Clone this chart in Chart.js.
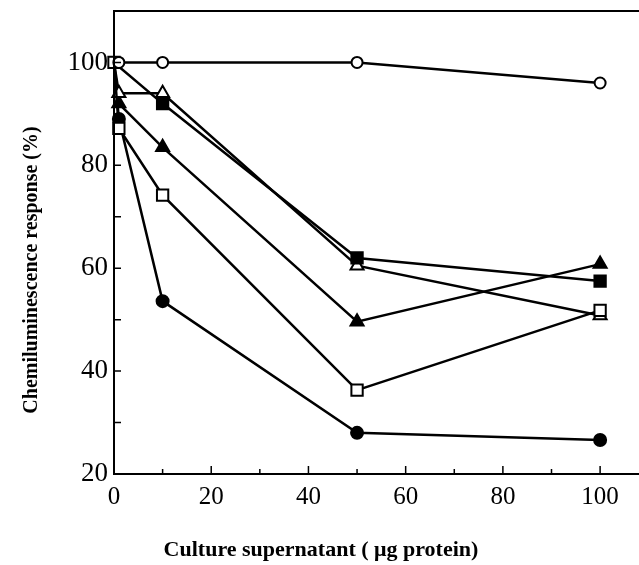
<!DOCTYPE html>
<html>
<head>
<meta charset="utf-8">
<script src="https://cdn.jsdelivr.net/npm/chart.js@4"></script>
<style>
  html, body { margin: 0; padding: 0; background: #fff; }
  #wrap { width: 639px; height: 565px; }
</style>
</head>
<body>
<div id="wrap"><canvas id="myChart"></canvas></div>
<script>
// Culture supernatant (ug protein)
const doses = [0, 1, 10, 50, 100];

// Chemiluminescence response (%) per series
const openCircle     = [100, 100, 100, 100, 96];
const filledSquare   = [100, null, 92, 62, 57.5];
const openTriangle   = [100, 94, 94, 60.5, 50.8];
const filledTriangle = [100, 92, 83.5, 49.6, 60.8];
const openSquare     = [100, 87.2, 74.2, 36.3, 51.8];
const filledCircle   = [100, 89, 53.6, 28, 26.6];

const xTicks = [0, 20, 40, 60, 80, 100];
const yTicks = [20, 40, 60, 80, 100];

const xTitle = 'Culture supernatant ( \u03bcg protein)';
const yTitle = 'Chemiluminescence response (%)';

function points(vals) {
    const out = [];
    vals.forEach((v, i) => { if (v !== null) out.push({ x: doses[i], y: v }); });
    return out;
}

function series(vals, shape, filled, radius, showFirst) {
    const pts = points(vals);
    return {
        data: pts,
        showLine: true,
        borderColor: '#000',
        borderWidth: 2.5,
        pointStyle: shape,
        pointRadius: pts.map(p => (p.x === 0 && !showFirst) ? 0 : radius),
        pointBackgroundColor: filled ? '#000' : '#fff',
        pointBorderColor: '#000',
        pointBorderWidth: 2,
        clip: false
    };
}

// frame, inward ticks and axis titles
const frame = {
    id: 'frame',
    afterDatasetsDraw(chart) {
        const c = chart.ctx;
        const a = chart.chartArea;
        const xs = chart.scales.x, ys = chart.scales.y;
        c.save();
        c.strokeStyle = '#000';
        c.lineWidth = 2;
        c.beginPath();
        c.moveTo(chart.width, a.top);
        c.lineTo(a.left, a.top);
        c.lineTo(a.left, a.bottom);
        c.lineTo(chart.width, a.bottom);
        c.stroke();
        c.lineWidth = 1.5;
        c.beginPath();
        for (let v = 10; v <= 100; v += 10) {
            const px = xs.getPixelForValue(v);
            const len = v % 20 === 0 ? 8 : 5;
            c.moveTo(px, a.bottom);
            c.lineTo(px, a.bottom - len);
        }
        for (let v = 30; v <= 100; v += 10) {
            const py = ys.getPixelForValue(v);
            c.moveTo(a.left, py);
            c.lineTo(a.left + 7, py);
        }
        c.stroke();

        c.fillStyle = '#000';
        c.textAlign = 'center';
        c.textBaseline = 'middle';
        c.font = 'bold 22px "Liberation Serif"';
        c.fillText(xTitle, 321, 550);
        c.font = 'bold 20px "Liberation Serif"';
        c.translate(32, 270);
        c.rotate(-Math.PI / 2);
        c.fillText(yTitle, 0, 0);
        c.restore();
    }
};

new Chart(document.getElementById('myChart'), {
    type: 'scatter',
    data: {
        datasets: [
            series(openCircle, 'circle', false, 5.5, false),
            series(openSquare, 'rect', false, 8, true),
            series(filledSquare, 'rect', true, 8, false),
            series(openTriangle, 'triangle', false, 7.5, false),
            series(filledTriangle, 'triangle', true, 7.5, false),
            series(filledCircle, 'circle', true, 6, false)
        ]
    },
    options: {
        responsive: true,
        maintainAspectRatio: false,
        animation: false,
        layout: { autoPadding: false, padding: { top: 11, right: 0, left: 0, bottom: 0 } },
        plugins: { legend: { display: false }, tooltip: { enabled: false } },
        scales: {
            x: {
                type: 'linear',
                bounds: 'data',
                min: 0,
                max: 108,
                afterFit(s) {
                    s.height = 91;
                    s.paddingLeft = 0; s.paddingRight = 0;
                    s.paddingTop = 0; s.paddingBottom = 0;
                },
                grid: { display: false, drawTicks: false },
                border: { display: false },
                ticks: {
                    stepSize: 20,
                    includeBounds: false,
                    autoSkip: false,
                    maxRotation: 0,
                    padding: 8,
                    color: '#000',
                    font: { family: 'Liberation Serif', size: 25 },
                    callback: v => xTicks.includes(v) ? String(v) : ''
                }
            },
            y: {
                type: 'linear',
                bounds: 'data',
                min: 20,
                max: 110,
                afterFit(s) {
                    s.width = 114;
                    s.paddingLeft = 0; s.paddingRight = 0;
                    s.paddingTop = 0; s.paddingBottom = 0;
                },
                grid: { display: false, drawTicks: false },
                border: { display: false },
                ticks: {
                    stepSize: 20,
                    includeBounds: false,
                    autoSkip: false,
                    padding: 6,
                    color: '#000',
                    font: { family: 'Liberation Serif', size: 27 },
                    callback: v => yTicks.includes(v) ? String(v) : ''
                }
            }
        }
    },
    plugins: [frame]
});
</script>
</body>
</html>
